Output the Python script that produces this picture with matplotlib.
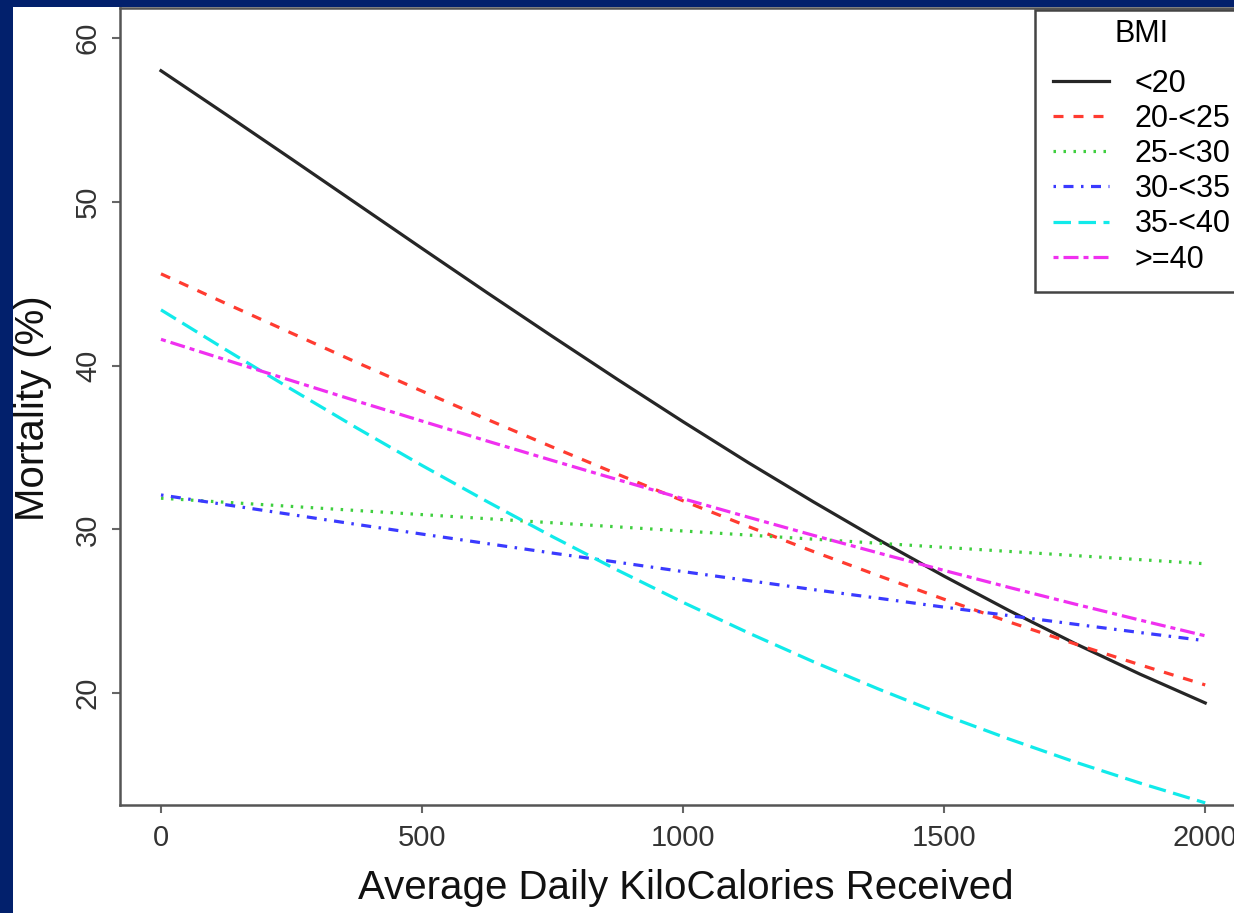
import matplotlib
matplotlib.use("Agg")
import matplotlib.pyplot as plt
from matplotlib.patches import Rectangle

plt.rcParams['font.family'] = ['Liberation Sans', 'DejaVu Sans']
plt.rcParams['lines.scale_dashes'] = False

# ---- data ----
kcal = [0, 125, 250, 375, 500, 625, 750, 875, 1000,
        1125, 1250, 1375, 1500, 1625, 1750, 1875, 2000]
bmi_lt20 = [58.00, 55.32, 52.61, 49.88, 47.15, 44.44, 41.77, 39.14, 36.57,
            34.07, 31.67, 29.35, 27.14, 25.03, 23.04, 21.16, 19.40]
bmi_20_25 = [45.60, 43.78, 41.98, 40.19, 38.44, 36.71, 35.02, 33.36, 31.74,
             30.17, 28.64, 27.16, 25.73, 24.34, 23.01, 21.73, 20.50]
bmi_25_30 = [31.90, 31.65, 31.40, 31.15, 30.90, 30.65, 30.40, 30.15, 29.90,
             29.65, 29.40, 29.15, 28.90, 28.65, 28.40, 28.15, 27.90]
bmi_30_35 = [32.10, 31.50, 30.90, 30.30, 29.71, 29.13, 28.55, 27.99, 27.42,
             26.87, 26.32, 25.79, 25.25, 24.73, 24.21, 23.70, 23.20]
bmi_35_40 = [43.40, 40.95, 38.55, 36.19, 33.90, 31.69, 29.55, 27.50, 25.54,
             23.68, 21.91, 20.24, 18.66, 17.19, 15.80, 14.51, 13.30]
bmi_ge40 = [41.60, 40.34, 39.08, 37.83, 36.61, 35.39, 34.20, 33.03, 31.87,
            30.74, 29.63, 28.55, 27.49, 26.45, 25.44, 24.46, 23.50]
labels = ["<20", "20-<25", "25-<30", "30-<35", "35-<40", ">=40"]
x_ticks = [0, 500, 1000, 1500, 2000]
y_ticks = [20, 30, 40, 50, 60]

series = [bmi_lt20, bmi_20_25, bmi_25_30, bmi_30_35, bmi_35_40, bmi_ge40]
colors = ['#262626', '#ff3b30', '#3fcf3f', '#3a3aff', '#11eaea', '#f030f0']
dashes = [None, (7.2, 7.2), (1.8, 5.4), (1.8, 5.4, 7.2, 5.4), (12.6, 5.4), (3.6, 3.6, 10.8, 3.6)]

W, H = 1234, 913
fig = plt.figure(figsize=(W / 100, H / 100), dpi=100)
fig.patch.set_facecolor('#02206c')
fig.patches.append(Rectangle((13 / W, 0), 1 - 13 / W, 1 - 7 / H, transform=fig.transFigure,
                             facecolor='white', edgecolor='none', zorder=-5))

ax = fig.add_axes([120 / W, 108 / H, 1127 / W, (805 - 8) / H])
ax.set_zorder(1)
ax.set_facecolor('white')

handles = []
for vals, c, d, lab in zip(series, colors, dashes, labels):
    ln, = ax.plot(kcal, vals, color=c, lw=2.3, label=lab, dash_capstyle='butt')
    if d is not None:
        ln.set_dashes(d)
    handles.append(ln)

ax.set_xlim(-78.5, 2080)
ax.set_ylim(13.17, 61.83)
ax.set_xticks(x_ticks)
ax.set_yticks(y_ticks)
ax.set_xticklabels([str(v) for v in x_ticks])
ax.set_yticklabels([str(v) for v in y_ticks], rotation=90, va='center')

for s in ax.spines.values():
    s.set_color('#555555')
    s.set_linewidth(1.8)
ax.tick_params(axis='both', direction='out', length=6, width=1.5, color='#666666',
               labelcolor='#333333', labelsize=21)
ax.tick_params(axis='x', pad=8)
ax.tick_params(axis='y', pad=7)

ax.set_xlabel("Average Daily KiloCalories Received", fontsize=29, color='#111111', va='center')
ax.set_ylabel("Mortality (%)", fontsize=29, color='#111111', va='center')
ax.xaxis.set_label_coords(686 / W, 1 - 888 / H, transform=fig.transFigure)
ax.yaxis.set_label_coords(33 / W, 1 - 408 / H, transform=fig.transFigure)

leg = ax.legend(handles=handles, title="BMI", loc='upper left',
                bbox_to_anchor=(1035 / W, 1 - 10 / H), bbox_transform=fig.transFigure,
                fontsize=22, title_fontsize=22, frameon=True, fancybox=False,
                borderpad=0.3, handlelength=1.85, handletextpad=0.85, labelspacing=0.17,
                borderaxespad=0)
leg._legend_handle_box.pad = 6
leg._legend_box.sep = 8
leg.get_frame().set_edgecolor('#444444')
leg.get_frame().set_linewidth(1.8)
leg.get_frame().set_facecolor('white')
leg.get_frame().set_alpha(1)

fig.savefig("out.png", dpi=100, facecolor=fig.get_facecolor())
